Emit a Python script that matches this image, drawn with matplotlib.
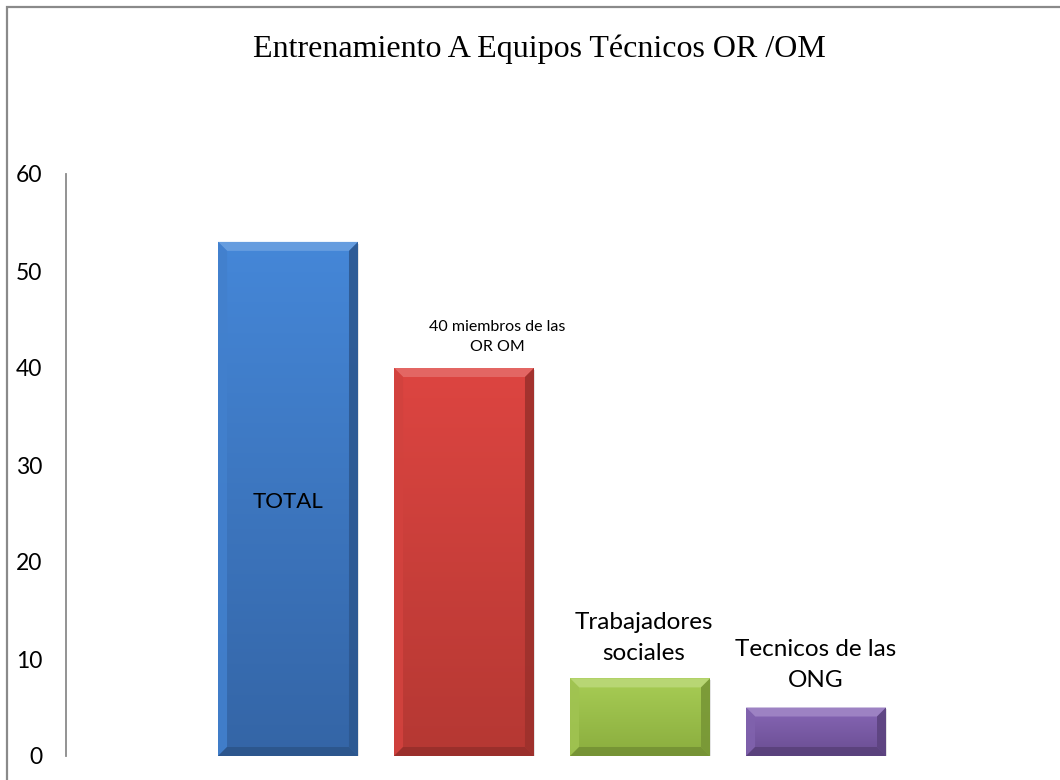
import numpy as np
import matplotlib
matplotlib.use("Agg")
import matplotlib.pyplot as plt
from matplotlib.patches import Polygon, Rectangle
from matplotlib.colors import to_rgb, LinearSegmentedColormap

# ---- data ----
categories = ["TOTAL", "40 miembros de las\nOR OM", "Trabajadores\nsociales", "Tecnicos de las\nONG"]
values = [53, 40, 8, 5]
yticks = [0, 10, 20, 30, 40, 50, 60]
title = "Entrenamiento A Equipos Técnicos OR /OM"

# ---- style ----
top_colors = ["#4587d8", "#dd4541", "#a8cd55", "#8767b6"]
bot_colors = ["#3465a6", "#b53833", "#8aad3e", "#6a4d92"]
label_sizes = [16, 11.5, 17.5, 17.5]
label_dx = [0, 0.19, 0.02, 0.0]
label_gap = [0, 1.4, 1.5, 1.65]
label_color = "#000000"

W, H, DPI = 1060, 780, 100
fig = plt.figure(figsize=(W / DPI, H / DPI), dpi=DPI)
fig.patch.set_facecolor("white")

# outer border (top/left visible)
fig.add_artist(Rectangle((7 / W, -0.05), 1.2, (H - 7) / H + 0.05, transform=fig.transFigure,
                         fill=False, edgecolor="#8a8a8a", linewidth=1.6))

ax_left, ax_right, ax_top, ax_bot = 66, 1060, 174, 756
ax = fig.add_axes([ax_left / W, (H - ax_bot) / H, (ax_right - ax_left) / W, (ax_bot - ax_top) / H])
ax.set_facecolor("none")

x = np.arange(len(categories))
width = 0.795
bars = ax.bar(x, values, width=width, color=top_colors, edgecolor="none", zorder=2)

ax.set_xlim(-1.2614, 4.386)
ax.set_ylim(0, 60)
ax.set_yticks(yticks)
ax.set_yticklabels([str(t) for t in yticks], fontsize=16.5, family="Lato")
ax.tick_params(axis="y", length=0, pad=17)
ax.set_xticks([])
for s in ["top", "right", "bottom"]:
    ax.spines[s].set_visible(False)
ax.spines["left"].set_color("#8a8a8a")
ax.spines["left"].set_linewidth(1.3)

# bevel sizes in data units
xr = ax.get_xlim()[1] - ax.get_xlim()[0]
yr = ax.get_ylim()[1] - ax.get_ylim()[0]
bpx = 9
dx = bpx * xr / (ax_right - ax_left)
dy = bpx * yr / (ax_bot - ax_top)

def mix(c, t, amt):
    c = np.array(to_rgb(c)); t = np.array(to_rgb(t))
    return tuple(c * (1 - amt) + t * amt)

for i, b in enumerate(bars):
    x0, y0 = b.get_x(), b.get_y()
    w, h = b.get_width(), b.get_height()
    x1, y1 = x0 + w, y0 + h
    cmap = LinearSegmentedColormap.from_list("g", [bot_colors[i], top_colors[i]])
    grad = np.linspace(0, 1, 256).reshape(-1, 1)
    im = ax.imshow(grad, cmap=cmap, extent=(x0, x1, y0, y1), origin="lower",
                   aspect="auto", zorder=2.1, interpolation="bilinear")
    im.set_clip_path(b)
    # soft shadow
    ax.add_patch(Rectangle((x0 + dx * 0.15, y0 - dy * 0.2), w, h, facecolor="#000000",
                           alpha=0.10, edgecolor="none", zorder=1.5))
    tc, bc = top_colors[i], bot_colors[i]
    ax.add_patch(Polygon([(x0, y1), (x1, y1), (x1 - dx, y1 - dy), (x0 + dx, y1 - dy)],
                         closed=True, facecolor=mix(tc, "white", 0.18), edgecolor="none", zorder=2.3))
    ax.add_patch(Polygon([(x0, y0), (x0, y1), (x0 + dx, y1 - dy), (x0 + dx, y0 + dy)],
                         closed=True, facecolor=mix(tc, "black", 0.05), edgecolor="none",
                         alpha=0.9, zorder=2.3))
    ax.add_patch(Polygon([(x1, y0), (x1, y1), (x1 - dx, y1 - dy), (x1 - dx, y0 + dy)],
                         closed=True, facecolor=mix(bc, "black", 0.13), edgecolor="none",
                         alpha=0.9, zorder=2.3))
    ax.add_patch(Polygon([(x0, y0), (x1, y0), (x1 - dx, y0 + dy), (x0 + dx, y0 + dy)],
                         closed=True, facecolor=mix(bc, "black", 0.16), edgecolor="none",
                         alpha=0.9, zorder=2.3))

# labels
ax.text(x[0], values[0] / 2 - 0.3, categories[0], ha="center", va="center",
        fontsize=label_sizes[0], family="Lato", color=label_color, zorder=5)
for i in range(1, len(categories)):
    ax.text(x[i] + label_dx[i], values[i] + label_gap[i], categories[i], ha="center", va="bottom",
            fontsize=label_sizes[i], family="Lato", color=label_color, zorder=5,
            linespacing=1.6)

fig.text(539 / W, 1 - 49 / H, title, ha="center", va="center", fontsize=23,
         family="Liberation Serif", color="black")

fig.savefig("out.png", dpi=DPI)
